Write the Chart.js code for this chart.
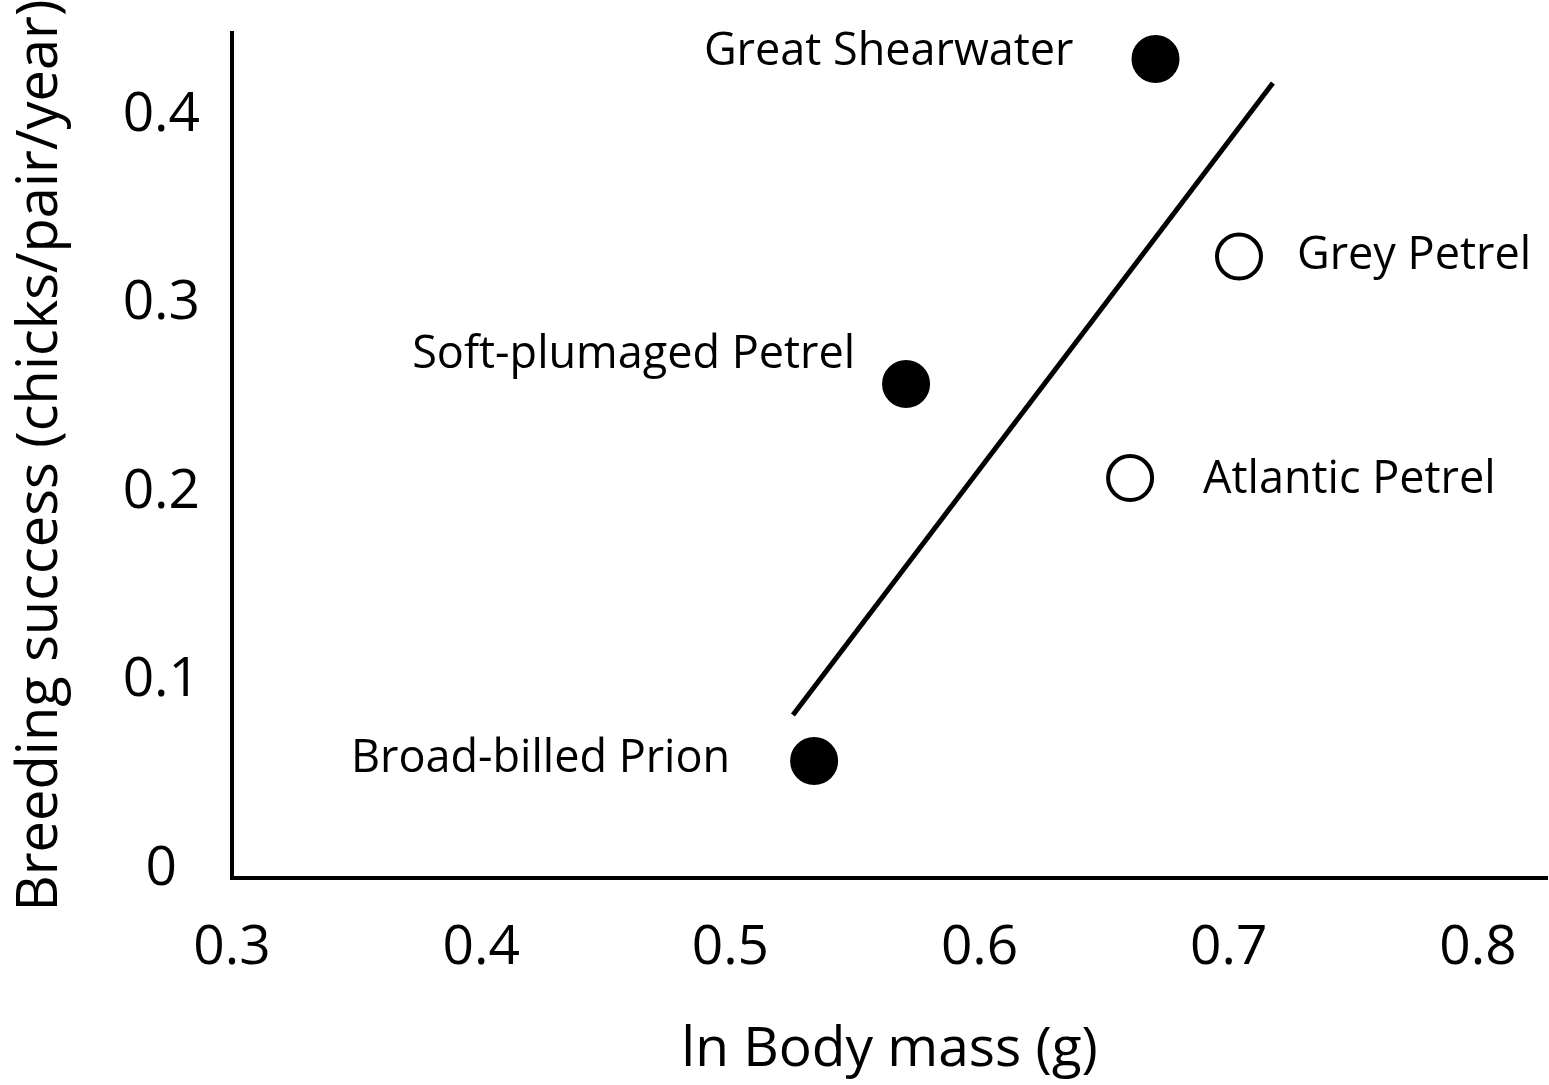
<!DOCTYPE html>
<html>
<head>
<meta charset="utf-8">
<script src="https://cdn.jsdelivr.net/npm/chart.js@4.4.0/dist/chart.umd.min.js"></script>
<style>
    html, body { margin: 0; padding: 0; background: #fff; overflow: hidden; }
    #chart { display: block; }
</style>
</head>
<body>
<canvas id="chart" width="1549" height="1085"></canvas>
<script>
// Species data
const species = ['Great Shearwater', 'Soft-plumaged Petrel', 'Broad-billed Prion', 'Grey Petrel', 'Atlantic Petrel'];
const bodyMass = [0.6706, 0.5705, 0.5336, 0.7041, 0.6604];
const breedingSuccess = [0.4297, 0.2573, 0.0573, 0.3249, 0.2074];
const filledMarker = [true, true, true, false, false];

// Fitted line end points
const fitX = [0.5251, 0.7177];
const fitY = [0.0817, 0.4170];

// Axis ticks
const xTicks = [0.3, 0.4, 0.5, 0.6, 0.7, 0.8];
const yTicks = [0, 0.1, 0.2, 0.3, 0.4];

// Label placement relative to each point: dx, dy (baseline), alignment
const labelPlacement = [
    { dx: -82, dy: 6, align: 'right' },
    { dx: -51, dy: -16, align: 'right' },
    { dx: -84, dy: 11, align: 'right' },
    { dx: 58, dy: 12, align: 'left' },
    { dx: 73, dy: 15, align: 'left' }
];

const FONT = "'Open Sans', 'DejaVu Sans', sans-serif";

const pointLabels = {
    id: 'pointLabels',
    afterDatasetsDraw(chart) {
        const meta = chart.getDatasetMeta(1);
        const ctx = chart.ctx;
        ctx.save();
        ctx.fillStyle = '#000';
        ctx.font = '45px ' + FONT;
        ctx.textBaseline = 'alphabetic';
        meta.data.forEach((pt, i) => {
            const p = labelPlacement[i];
            ctx.textAlign = p.align;
            ctx.fillText(species[i], pt.x + p.dx, pt.y + p.dy);
        });
        ctx.restore();
    }
};

const whiteBg = {
    id: 'whiteBg',
    beforeDraw(chart) {
        const ctx = chart.ctx;
        ctx.save();
        ctx.fillStyle = '#fff';
        ctx.fillRect(0, 0, chart.width, chart.height);
        ctx.restore();
    }
};

new Chart(document.getElementById('chart'), {
    type: 'scatter',
    data: {
        datasets: [
            {
                type: 'line',
                data: fitX.map((x, i) => ({ x: x, y: fitY[i] })),
                borderColor: '#000',
                borderWidth: 5,
                pointRadius: 0,
                fill: false
            },
            {
                data: bodyMass.map((x, i) => ({ x: x, y: breedingSuccess[i] })),
                pointRadius: 22,
                pointBorderWidth: 4,
                borderColor: '#000',
                backgroundColor: ctx => filledMarker[ctx.dataIndex] ? '#000' : '#fff',
                clip: false
            }
        ]
    },
    options: {
        responsive: false,
        animation: false,
        layout: { autoPadding: false, padding: { top: 33, right: 2, left: 0, bottom: 0 } },
        plugins: {
            legend: { display: false },
            tooltip: { enabled: false }
        },
        scales: {
            x: {
                type: 'linear',
                min: 0.3,
                max: 0.8277,
                afterBuildTicks: axis => { axis.ticks = xTicks.map(v => ({ value: v })); },
                afterFit: axis => {
                    axis.height = 207;
                    axis.paddingLeft = 0;
                    axis.paddingRight = 0;
                },
                grid: { display: false, drawTicks: false },
                border: { display: true, width: 4, color: '#000' },
                ticks: {
                    padding: 37,
                    color: '#000',
                    font: { family: FONT, size: 55 },
                    callback: v => v.toFixed(1)
                },
                title: {
                    display: true,
                    text: 'ln Body mass (g)',
                    color: '#000',
                    font: { family: FONT, size: 55 },
                    padding: { top: 0, bottom: 2 }
                }
            },
            y: {
                type: 'linear',
                min: -0.0048,
                max: 0.4435,
                afterBuildTicks: axis => { axis.ticks = yTicks.map(v => ({ value: v })); },
                afterFit: axis => {
                    axis.width = 232;
                    axis.paddingTop = 0;
                    axis.paddingBottom = 0;
                },
                grid: { display: false, drawTicks: false },
                border: { display: true, width: 4, color: '#000' },
                ticks: {
                    padding: 32,
                    crossAlign: 'center',
                    color: '#000',
                    font: { family: FONT, size: 55 },
                    callback: v => (v === 0 ? '0' : v.toFixed(1))
                },
                title: {
                    display: true,
                    text: 'Breeding success (chicks/pair/year)',
                    color: '#000',
                    font: { family: FONT, size: 56 },
                    padding: { top: 7, bottom: 0 }
                }
            }
        }
    },
    plugins: [whiteBg, pointLabels]
});
</script>
</body>
</html>
